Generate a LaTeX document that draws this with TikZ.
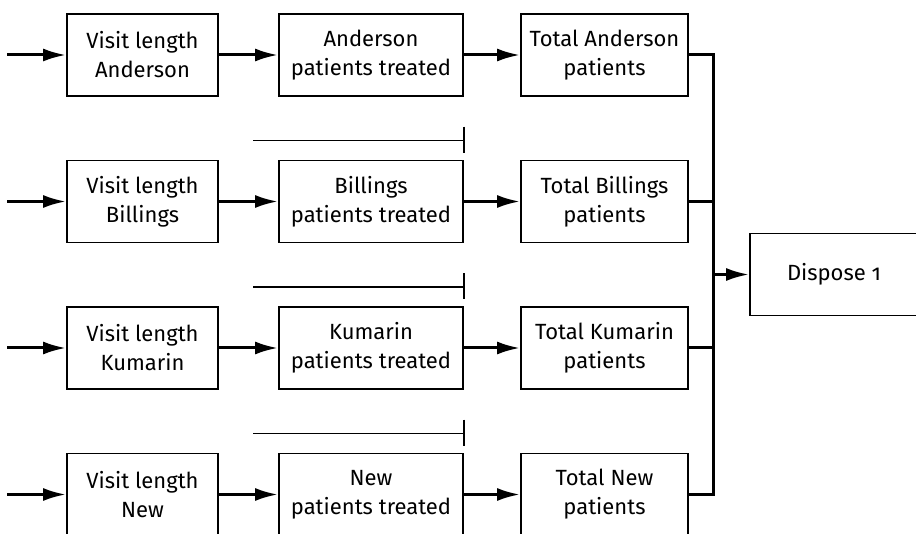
\documentclass[tikz,border=0pt]{standalone}
\usepackage{fontspec}
\setmainfont{Fira Sans}[Numbers=OldStyle]
\usetikzlibrary{positioning,arrows.meta,calc}
\tikzset{>={Latex[length=11.5pt,width=6.5pt]}}
\tikzset{stepbox/.style={draw,line width=0.9pt,minimum height=41pt,align=center,inner sep=0pt,font=\fontsize{11}{14.5}\selectfont}}
\tikzset{visitbox/.style={stepbox,minimum width=75.5pt}}
\tikzset{treatbox/.style={stepbox,minimum width=92pt}}
\tikzset{totalbox/.style={stepbox,minimum width=83.5pt}}
\tikzset{flow/.style={line width=1.5pt}}
\tikzset{bar/.style={line width=0.6pt}}

\begin{document}
\begin{tikzpicture}[x=0.5pt,y=-0.5pt]
        \useasboundingbox (0,0) rectangle (916,534);
        % visit length
        \node[visitbox](va) at (142.5, 55) {Visit length\\Anderson};
        \node[visitbox](vb) at (142.5,201.5) {Visit length\\Billings};
        \node[visitbox](vc) at (142.5,348) {Visit length\\Kumarin};
        \node[visitbox](vn) at (142.5,494.5) {Visit length\\New};
        % patients treated
        \node[treatbox](pa) at (371, 55) {Anderson\\patients treated};
        \node[treatbox](pb) at (371,201.5) {Billings\\patients treated};
        \node[treatbox](pc) at (371,348) {Kumarin\\patients treated};
        \node[treatbox](pn) at (371,494.5) {New\\patients treated};
        % totals
        \node[totalbox](ta) at (604.5, 55) {Total Anderson\\patients};
        \node[totalbox](tb) at (604.5,201.5) {Total Billings\\patients};
        \node[totalbox](tc) at (604.5,348) {Total Kumarin\\patients};
        \node[totalbox](tn) at (604.5,494.5) {Total New\\patients};
        \node[stepbox,minimum width=84pt](dsp) at (834,274.5) {Dispose 1};
        % free ends
        \coordinate (ina) at (7, 55);
        \coordinate (inb) at (7,201.5);
        \coordinate (inc) at (7,348);
        \coordinate (inn) at (7,494.5);
        \coordinate (bus) at (713,274.5);
        \draw[flow,->] (ina) -- (va); \draw[flow,->] (va) -- (pa); \draw[flow,->] (pa) -- (ta);
        \draw[flow,->] (inb) -- (vb); \draw[flow,->] (vb) -- (pb); \draw[flow,->] (pb) -- (tb);
        \draw[flow,->] (inc) -- (vc); \draw[flow,->] (vc) -- (pc); \draw[flow,->] (pc) -- (tc);
        \draw[flow,->] (inn) -- (vn); \draw[flow,->] (vn) -- (pn); \draw[flow,->] (pn) -- (tn);
        % collecting line
        \draw[flow] (ta.east) -- (ta.east -| bus) -- (tn.east -| bus) -- (tn.east);
        \draw[flow] (tb.east) -- (tb.east -| bus);
        \draw[flow] (tc.east) -- (tc.east -| bus);
        \draw[flow,->] (bus) -- (dsp);
        % bars over the treated boxes
        \draw[bar] ($(pb.north west)+(-25,-19)$) -- ($(pb.north east)+(0,-19)$);
        \draw[bar] ($(pb.north east)+(0,-33)$) -- ($(pb.north east)+(0,-7)$);
        \draw[bar] ($(pc.north west)+(-25,-19)$) -- ($(pc.north east)+(0,-19)$);
        \draw[bar] ($(pc.north east)+(0,-33)$) -- ($(pc.north east)+(0,-7)$);
        \draw[bar] ($(pn.north west)+(-25,-19)$) -- ($(pn.north east)+(0,-19)$);
        \draw[bar] ($(pn.north east)+(0,-33)$) -- ($(pn.north east)+(0,-7)$);
    \end{tikzpicture}
\end{document}
